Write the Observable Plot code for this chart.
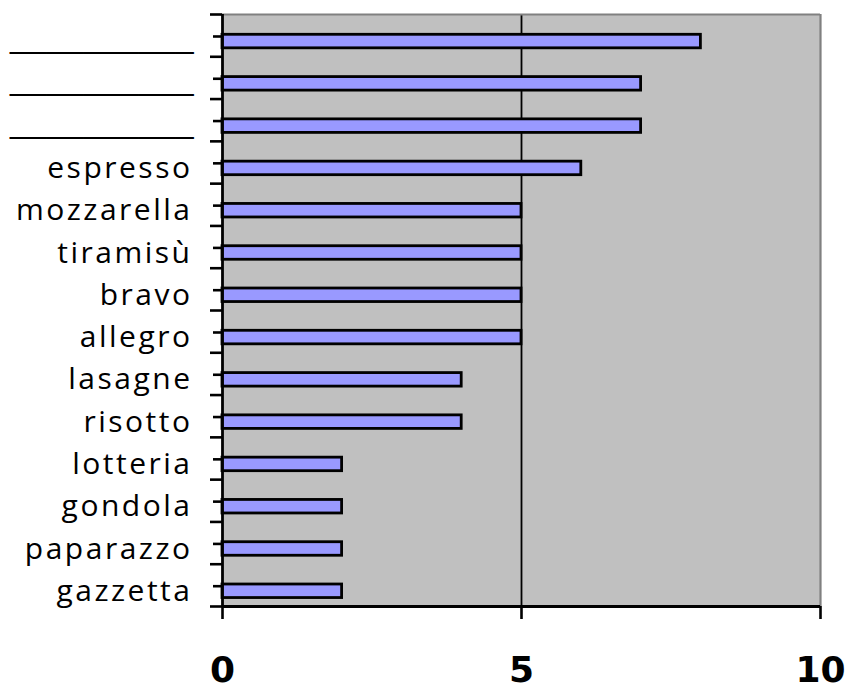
<!DOCTYPE html>
<html>
<head>
<meta charset="utf-8">
<script src="https://cdn.jsdelivr.net/npm/d3@7"></script>
<script src="https://cdn.jsdelivr.net/npm/@observablehq/plot@0.6"></script>
<style>
  html, body { margin: 0; padding: 0; background: #fff; }
</style>
</head>
<body>
<div id="chart"></div>
<script>
const categories = ["__________", "__________", "__________", "espresso", "mozzarella", "tiramisù", "bravo", "allegro", "lasagne", "risotto", "lotteria", "gondola", "paparazzo", "gazzetta"];
const values = [8, 7, 7, 6, 5, 5, 5, 5, 4, 4, 2, 2, 2, 2];
const xTicks = [0, 5, 10];

const n = categories.length;
const idx = d3.range(n);
const barTop = 0.48, barBottom = 0.80, labelPos = 0.64;
const isBlank = i => /^_+$/.test(categories[i]);

const chart = Plot.plot({
  width: 846,
  height: 689,
  marginLeft: 222,
  marginRight: 26,
  marginTop: 14,
  marginBottom: 83,
  style: { fontFamily: "Open Sans", background: "#fff", color: "#000" },
  x: { domain: [0, 10], axis: null },
  y: { domain: [0, n], range: [14, 606], axis: null },
  marks: [
    Plot.frame({ fill: "#C0C0C0", stroke: "none" }),
    Plot.ruleX([5], { y1: 0, y2: n, stroke: "#000", strokeWidth: 1.8 }),
    Plot.ruleY([0], { x1: 0, x2: 10, stroke: "#808080", strokeWidth: 2.2 }),
    Plot.ruleX([10], { y1: 0, y2: n, stroke: "#808080", strokeWidth: 2.2 }),
    Plot.rectX(idx, {
      x1: 0,
      x2: i => values[i],
      y1: i => i + barTop,
      y2: i => i + barBottom,
      fill: "#9999FF",
      stroke: "#000",
      strokeWidth: 2.8
    }),
    Plot.ruleX([0], { y1: 0, y2: n, stroke: "#000", strokeWidth: 2.8 }),
    Plot.ruleY([n], { x1: 0, x2: 10, stroke: "#000", strokeWidth: 2.8 }),
    Plot.axisY({ ticks: d3.range(n + 1), tickSize: 12, tickFormat: () => "", strokeWidth: 2.6, anchor: "left" }),
    Plot.axisY({ ticks: idx.map(i => i + 0.52), tickSize: 9, tickFormat: () => "", strokeWidth: 2.6, anchor: "left" }),
    Plot.axisX({
      ticks: xTicks,
      tickSize: 13,
      tickPadding: 37,
      strokeWidth: 2.6,
      fontSize: 36,
      fontWeight: "bold",
      fontFamily: "DejaVu Sans",
      anchor: "bottom"
    }),
    Plot.text(idx, {
      filter: i => !isBlank(i),
      x: 0,
      y: i => i + labelPos,
      text: i => categories[i],
      textAnchor: "end",
      dx: -30,
      fontSize: 30,
      fill: "#000"
    }),
    Plot.text(idx, {
      filter: isBlank,
      x: 0,
      y: i => i + labelPos,
      text: i => categories[i],
      textAnchor: "end",
      dx: -29,
      dy: -5,
      fontSize: 33,
      fontFamily: "Liberation Sans",
      fill: "#000"
    })
  ]
});
// letter spacing for the word labels (first text mark group)
const textGroups = chart.querySelectorAll('g[aria-label="text"]');
if (textGroups.length) {
  textGroups[0].querySelectorAll("text").forEach(t => t.style.letterSpacing = "2.5px");
}
document.getElementById("chart").appendChild(chart);
</script>
</body>
</html>
